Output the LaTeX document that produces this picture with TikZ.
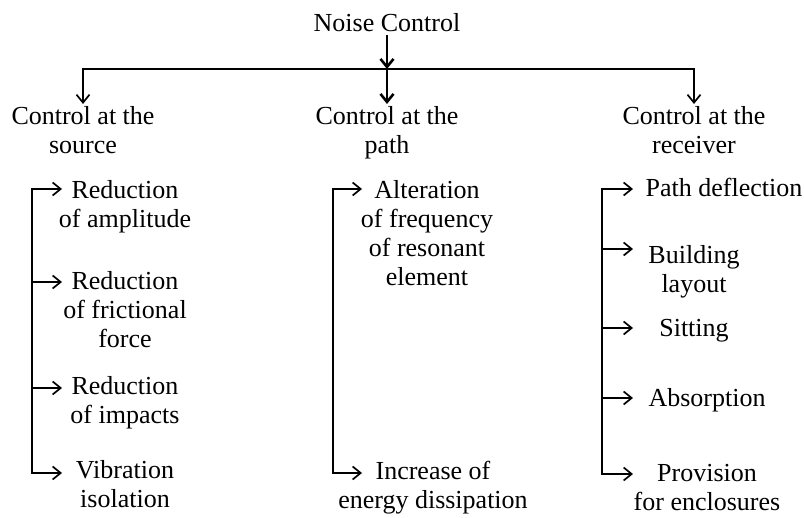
\documentclass[tikz,border=0pt]{standalone}
\usepackage{fontspec}
\setmainfont{Liberation Serif}
\usetikzlibrary{arrows.meta}

\begin{document}
\begin{tikzpicture}[x=1pt, y=-1pt, line width=1.7pt,
    >={Straight Barb[length=8pt,width=13pt]},
    txt/.style={align=center, anchor=north, inner sep=2pt,
      font=\fontsize{26}{29}\selectfont},
    trunk/.style={line width=2.6pt}]
  \useasboundingbox (0,0) rectangle (804,518);

  % top level
  \node[txt] (noise) at (387,11) {Noise Control};
  \coordinate (hub) at (387,69);
  \node[txt] (source) at (83,104) {Control at the\\source};
  \node[txt] (path) at (387,104) {Control at the\\path};
  \node[txt] (receiver) at (694,104) {Control at the\\receiver};

  \draw[->] (hub) -| (source);
  \draw[->] (hub) -| (receiver);
  \draw[->, trunk] (noise) -- (hub);
  \draw[->, trunk] (hub) -- (path);

  % at the source
  \node[txt] (ampl) at (125,178) {Reduction\\of amplitude};
  \node[txt] (fric) at (125,269) {Reduction\\of frictional\\force};
  \node[txt] (impact) at (125,374) {Reduction\\of impacts};
  \node[txt] (vib) at (125,458) {Vibration\\isolation};

  \coordinate (src-top) at (32,189);
  \coordinate (src-2) at (32,282);
  \coordinate (src-3) at (32,388);
  \coordinate (src-bot) at (32,473);
  \coordinate (ampl-tip) at (62,189);
  \coordinate (fric-tip) at (62,282);
  \coordinate (impact-tip) at (62,388);
  \coordinate (vib-tip) at (62,473);

  \draw[->] (src-bot) |- (ampl-tip);
  \draw[->] (src-top) |- (vib-tip);
  \draw[->] (src-2) -- (fric-tip);
  \draw[->] (src-3) -- (impact-tip);

  % at the path
  \node[txt] (alter) at (427,178) {Alteration\\of frequency\\of resonant\\element};
  \node[txt] (dissip) at (433,458) {Increase of\\energy dissipation};

  \coordinate (pth-top) at (333,189);
  \coordinate (pth-bot) at (333,473);
  \coordinate (alter-tip) at (362,189);
  \coordinate (dissip-tip) at (362,473);

  \draw[->] (pth-bot) |- (alter-tip);
  \draw[->] (pth-top) |- (dissip-tip);

  % at the receiver
  \node[txt] (deflect) at (724,175) {Path deflection};
  \node[txt] (layout) at (694,243) {Building\\layout};
  \node[txt] (sitting) at (694,316) {Sitting};
  \node[txt] (absorb) at (707,386) {Absorption};
  \node[txt] (enclose) at (707,461) {Provision\\for enclosures};

  \coordinate (rcv-top) at (602,189);
  \coordinate (rcv-2) at (602,249);
  \coordinate (rcv-3) at (602,328);
  \coordinate (rcv-4) at (602,398);
  \coordinate (rcv-bot) at (602,474);
  \coordinate (deflect-tip) at (633,189);
  \coordinate (layout-tip) at (633,249);
  \coordinate (sitting-tip) at (633,328);
  \coordinate (absorb-tip) at (633,398);
  \coordinate (enclose-tip) at (633,474);

  \draw[->] (rcv-bot) |- (deflect-tip);
  \draw[->] (rcv-top) |- (enclose-tip);
  \draw[->] (rcv-2) -- (layout-tip);
  \draw[->] (rcv-3) -- (sitting-tip);
  \draw[->] (rcv-4) -- (absorb-tip);
\end{tikzpicture}
\end{document}
